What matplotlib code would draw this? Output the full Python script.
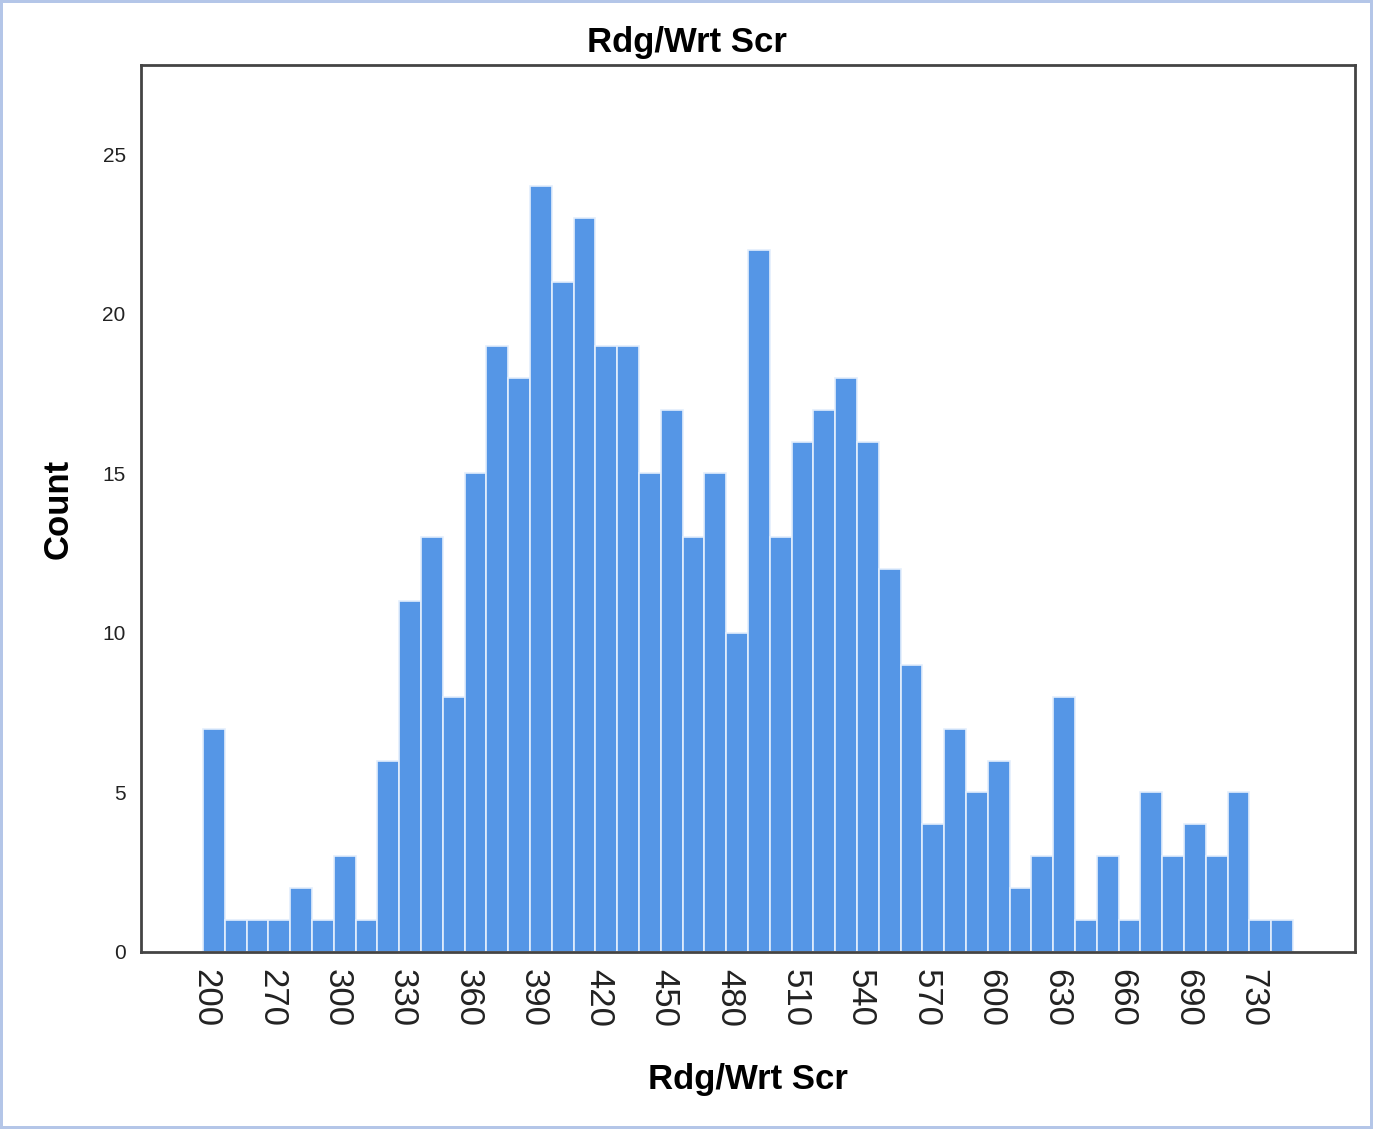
import matplotlib
matplotlib.use("Agg")
import matplotlib.pyplot as plt
import numpy as np

# Data: histogram counts per bin (left to right)
counts = [7, 1, 1, 1, 2, 1, 3, 1, 6, 11, 13, 8, 15, 19, 18, 24, 21, 23, 19, 19,
          15, 17, 13, 15, 10, 22, 13, 16, 17, 18, 16, 12, 9, 4, 7, 5, 6, 2, 3, 8,
          1, 3, 1, 5, 3, 4, 3, 5, 1, 1]
tick_labels = ["200", "270", "300", "330", "360", "390", "420", "450", "480",
               "510", "540", "570", "600", "630", "660", "690", "730"]
y_ticks = [0, 5, 10, 15, 20, 25]
title = "Rdg/Wrt Scr"
xlabel = "Rdg/Wrt Scr"
ylabel = "Count"

plt.rcParams['font.family'] = ['Liberation Sans', 'DejaVu Sans']

fig = plt.figure(figsize=(13.73, 11.29), dpi=100)
fig.patch.set_facecolor('white')
fig.patch.set_edgecolor('#b4c6e8')
fig.patch.set_linewidth(3)

ax = fig.add_axes([0.1027, 0.1568, 0.9869 - 0.1027, 0.9424 - 0.1568])

x = np.arange(len(counts))
ax.bar(x, counts, width=1.0, align='edge', color='#5596e6',
       edgecolor='#e3eefc', linewidth=1.2)

ax.set_xlim(-2.84, 52.84)
ax.set_ylim(0, 27.8)

tick_pos = np.arange(len(tick_labels)) * 3 + 0.15
ax.set_xticks(tick_pos)
ax.set_xticklabels(tick_labels, rotation=270, fontsize=25, va='top', ha='center',
                   color='#222222')
ax.set_yticks(y_ticks)
ax.set_yticklabels([str(v) for v in y_ticks], fontsize=15, color='#222222')
ax.tick_params(axis='both', length=0)
ax.tick_params(axis='x', pad=12)
ax.tick_params(axis='y', pad=11)

for s in ax.spines.values():
    s.set_color('#444444')
    s.set_linewidth(2)

ax.set_xlabel(xlabel, fontsize=25, fontweight='bold', labelpad=26)
ax.set_ylabel(ylabel, fontsize=25, fontweight='bold', labelpad=20)
fig.text(0.5, 0.962, title, fontsize=25, fontweight='bold', ha='center', va='center')

fig.savefig("out.png", dpi=100, facecolor=fig.get_facecolor(), edgecolor=fig.get_edgecolor())
